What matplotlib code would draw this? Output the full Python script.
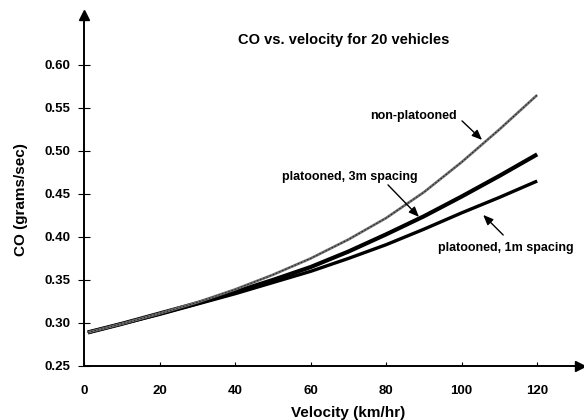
import matplotlib
matplotlib.use("Agg")
import matplotlib.pyplot as plt

plt.rcParams['font.family'] = ['Liberation Sans', 'DejaVu Sans']
plt.rcParams['font.weight'] = 'bold'

velocity = [1, 10, 20, 30, 40, 50, 60, 70, 80, 90, 100, 110, 120]
co_non_platooned = [0.289, 0.299, 0.311, 0.324, 0.339, 0.356, 0.375, 0.397, 0.422, 0.452, 0.487, 0.525, 0.565]
co_platooned_3m = [0.289, 0.299, 0.311, 0.323, 0.336, 0.350, 0.365, 0.383, 0.403, 0.424, 0.447, 0.471, 0.496]
co_platooned_1m = [0.289, 0.299, 0.310, 0.322, 0.334, 0.347, 0.360, 0.375, 0.391, 0.409, 0.428, 0.446, 0.465]

x_ticks = [0, 20, 40, 60, 80, 100, 120]
y_ticks = [0.25, 0.30, 0.35, 0.40, 0.45, 0.50, 0.55, 0.60]

title = "CO vs. velocity for 20 vehicles"
x_label = "Velocity (km/hr)"
y_label = "CO (grams/sec)"

fig = plt.figure(figsize=(5.84, 4.20), dpi=100)
ax = fig.add_axes([84/584, 1-366/420, 1-84/584, (366-15)/420])
ax.set_xlim(0, 132.4)
ax.set_ylim(0.25, 0.658)

ax.plot(velocity, co_platooned_1m, color='black', lw=2.4, solid_capstyle='butt')
ax.plot(velocity, co_platooned_3m, color='black', lw=3.0, solid_capstyle='butt')
ax.plot(velocity, co_non_platooned, color='#6e6e6e', lw=1.9, solid_capstyle='butt')
ax.plot(velocity, co_non_platooned, color='#1e1e1e', lw=0.7, ls=(0, (1.5, 2.0)))

for s in ['top', 'right']:
    ax.spines[s].set_visible(False)
for s in ['left', 'bottom']:
    ax.spines[s].set_linewidth(1.4)

# axis arrows
ax.plot([0.992], [0], marker='>', color='black', markersize=7, transform=ax.transAxes, clip_on=False)
ax.plot([0], [1], marker='^', color='black', markersize=7, transform=ax.transAxes, clip_on=False)

ax.set_xticks(x_ticks)
ax.set_yticks(y_ticks)
ax.set_xticklabels([str(t) for t in x_ticks])
ax.set_yticklabels([f"{t:.2f}" for t in y_ticks])
ax.tick_params(axis='y', direction='inout', length=8, width=0.8, labelsize=9.5, pad=6)
ax.tick_params(axis='x', direction='in', length=3, width=0.8, labelsize=9.5, pad=14)

ax.set_xlabel(x_label, fontsize=11, fontweight='bold')
ax.set_ylabel(y_label, fontsize=11, fontweight='bold')
ax.xaxis.set_label_coords((348-84)/500, -(406-366)/351)
ax.yaxis.set_label_coords(-(84-28)/500, (366-200)/351)

fig.text(343.5/584, 1-40/420, title, ha='center', va='center', fontsize=10.5, fontweight='bold')

arrowprops = dict(arrowstyle='-|>,head_length=0.6,head_width=0.25', color='black', lw=1.0, shrinkA=0, shrinkB=0)
ax.text(87.3, 0.5407, "non-platooned", ha='center', va='center', fontsize=9, fontweight='bold')
ax.annotate("", xy=(105.4, 0.5128), xytext=(100.1, 0.5349), arrowprops=arrowprops)
ax.text(70.3, 0.4698, "platooned, 3m spacing", ha='center', va='center', fontsize=9, fontweight='bold')
ax.annotate("", xy=(88.7, 0.4233), xytext=(80.5, 0.4605), arrowprops=arrowprops)
ax.text(111.8, 0.3872, "platooned, 1m spacing", ha='center', va='center', fontsize=9, fontweight='bold')
ax.annotate("", xy=(105.7, 0.4256), xytext=(111.0, 0.4023), arrowprops=arrowprops)

fig.savefig("out.png", dpi=100)
